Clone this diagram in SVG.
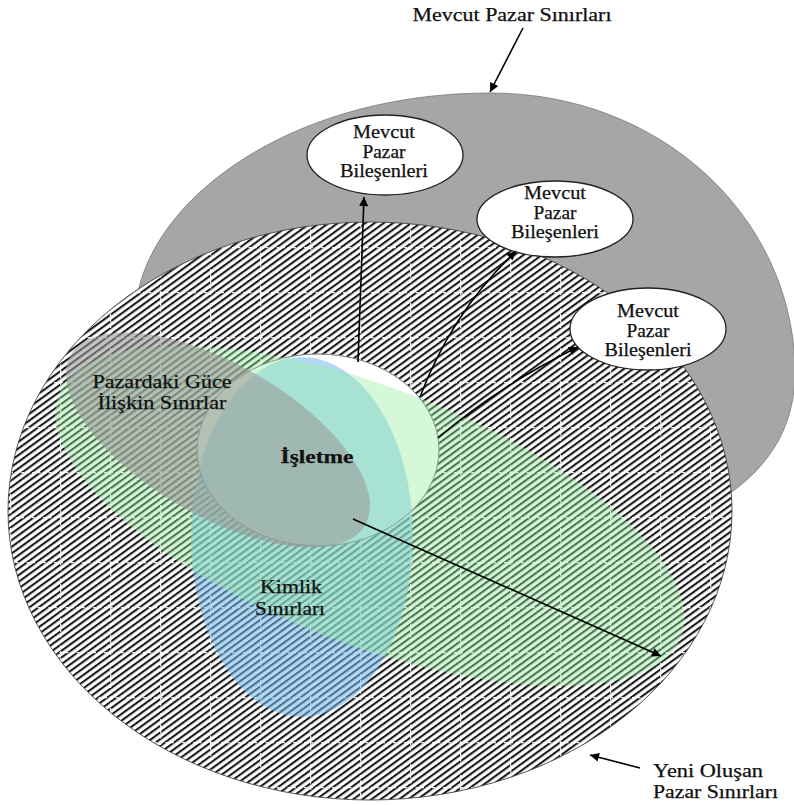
<svg xmlns="http://www.w3.org/2000/svg" width="794" height="805" viewBox="0 0 794 805">
<style>
  text { font-family: "Liberation Serif", "Times New Roman", serif; fill: #111; font-size: 18px; stroke: #111; stroke-width: 0.25; }
  .c { text-anchor: middle; }
  .b { font-weight: bold; }
  .node ellipse { fill: #fff; stroke: #222; stroke-width: 1.3; }
  .conn { stroke: #000; stroke-width: 1.6; fill: none; marker-end: url(#ah); }
</style>
<defs>
  <marker id="ah" viewBox="0 0 10 10" refX="10" refY="5" markerWidth="11" markerHeight="9" markerUnits="userSpaceOnUse" orient="auto">
    <path d="M0,0 L10,5 L0,10 Z" fill="#000"/>
  </marker>
  <pattern id="hatch" patternUnits="userSpaceOnUse" width="10" height="5.4" patternTransform="rotate(-36)">
    <rect width="10" height="5.4" fill="#fff"/>
    <rect y="0" width="10" height="2.1" fill="#1a1a1a"/>
  </pattern>
  <pattern id="grid" patternUnits="userSpaceOnUse" x="10" y="22" width="50" height="45">
    <path d="M0.6,0 V45 M0,0.6 H50" stroke="#fff" stroke-width="1.3" stroke-dasharray="3 2.5" stroke-opacity="0.9" fill="none"/>
  </pattern>
</defs>

<g id="mevcut-pazar-sinirlari">
  <path d="M138,292 C160,190 300,93 490,93 C660,93 790,215 795,365 C797,425 770,465 729,494 L400,520 Z" fill="#a6a6a6" stroke="#777" stroke-width="0.8"/>
</g>

<g id="yeni-pazar-sinirlari">
  <ellipse cx="370" cy="511" rx="362" ry="289" fill="url(#hatch)"/>
  <ellipse cx="370" cy="511" rx="362" ry="289" fill="url(#grid)" stroke="#444" stroke-width="0.9"/>
</g>

<g id="isletme-alan">
  <ellipse cx="318" cy="450" rx="121" ry="96" fill="#fff" stroke="#888" stroke-width="1"/>
</g>

<g id="kimlik-sinirlari">
  <ellipse cx="302" cy="537" rx="111" ry="180" fill="#74b9ec" fill-opacity="0.55"/>
</g>

<g id="yesil-alan">
  <ellipse cx="370" cy="516" rx="334" ry="128" transform="rotate(21.3 370 516)" fill="#98eea2" fill-opacity="0.42"/>
</g>

<g id="guc-sinirlari">
  <ellipse cx="218" cy="440" rx="170" ry="76" transform="rotate(30 218 440)" fill="#9a9a9a" fill-opacity="0.58"/>
</g>

<g id="isletme">
  <ellipse cx="318" cy="450" rx="121" ry="96" fill="none" stroke="#888" stroke-width="0.8" stroke-opacity="0.6"/>
  <text class="c b" x="317" y="463" font-size="19" textLength="73" lengthAdjust="spacingAndGlyphs">İşletme</text>
</g>

<g id="bilesen1" class="node">
  <ellipse cx="385" cy="155" rx="78" ry="40"/>
  <text class="c" x="384" y="138" textLength="62" lengthAdjust="spacingAndGlyphs">Mevcut</text>
  <text class="c" x="384" y="158" textLength="43" lengthAdjust="spacingAndGlyphs">Pazar</text>
  <text class="c" x="384" y="177" textLength="88" lengthAdjust="spacingAndGlyphs">Bileşenleri</text>
</g>

<g id="bilesen2" class="node">
  <ellipse cx="555" cy="219" rx="78" ry="38"/>
  <text class="c" x="555" y="199" textLength="62" lengthAdjust="spacingAndGlyphs">Mevcut</text>
  <text class="c" x="555" y="219" textLength="43" lengthAdjust="spacingAndGlyphs">Pazar</text>
  <text class="c" x="555" y="238" textLength="88" lengthAdjust="spacingAndGlyphs">Bileşenleri</text>
</g>

<g id="bilesen3" class="node">
  <ellipse cx="648" cy="329" rx="78" ry="41"/>
  <text class="c" x="648" y="317" textLength="62" lengthAdjust="spacingAndGlyphs">Mevcut</text>
  <text class="c" x="648" y="337" textLength="43" lengthAdjust="spacingAndGlyphs">Pazar</text>
  <text class="c" x="648" y="356" textLength="87" lengthAdjust="spacingAndGlyphs">Bileşenleri</text>
</g>

<g id="labels">
  <text class="c" x="512" y="21" textLength="199" lengthAdjust="spacingAndGlyphs">Mevcut Pazar Sınırları</text>
  <text class="c" x="162" y="388" textLength="139" lengthAdjust="spacingAndGlyphs">Pazardaki Güce</text>
  <text class="c" x="162" y="409" textLength="129" lengthAdjust="spacingAndGlyphs">İlişkin Sınırlar</text>
  <text class="c" x="291" y="593" textLength="62" lengthAdjust="spacingAndGlyphs">Kimlik</text>
  <text class="c" x="290" y="615" textLength="70" lengthAdjust="spacingAndGlyphs">Sınırları</text>
  <text x="653" y="777" textLength="110" lengthAdjust="spacingAndGlyphs">Yeni Oluşan</text>
  <text x="653" y="798" textLength="125" lengthAdjust="spacingAndGlyphs">Pazar Sınırları</text>
</g>

<g id="connectors">
  <line class="conn" x1="358" y1="362" x2="364" y2="197"/>
  <path class="conn" d="M420,397 Q452,312 516,251"/>
  <path class="conn" d="M438,438 Q500,385 578,347"/>
  <line class="conn" x1="353" y1="519" x2="661" y2="656"/>
  <line class="conn" x1="523" y1="28" x2="490" y2="92"/>
  <line class="conn" x1="640" y1="768" x2="590" y2="755"/>
</g>
</svg>
